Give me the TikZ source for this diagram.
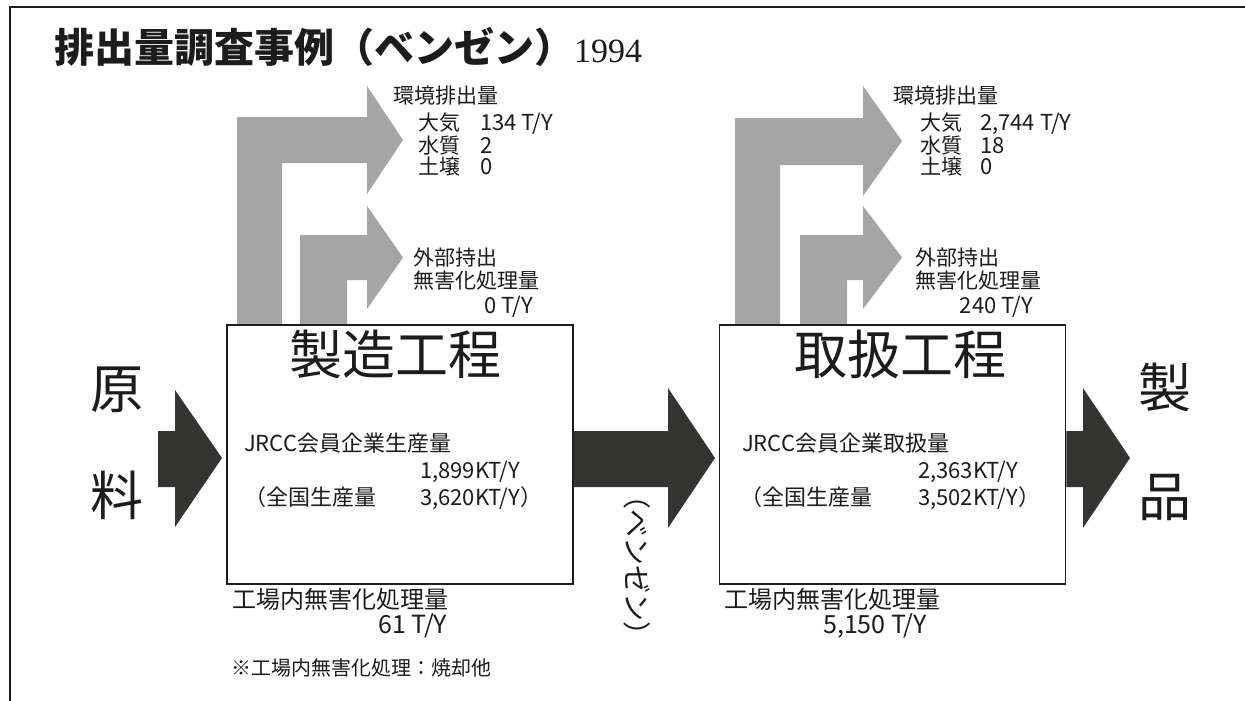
\documentclass[tikz,border=0pt]{standalone}
\usepackage{fontspec}
\setmainfont{Noto Sans CJK JP}
\newfontfamily\tnr{Liberation Serif}
\definecolor{arrgray}{RGB}{165,165,165}
\definecolor{arrdark}{RGB}{52,52,50}
\definecolor{ink}{RGB}{28,28,28}
\tikzset{
  lbl/.style={inner sep=0pt, text height=0.88em, text depth=0.12em, text=ink, anchor=west, font=\fontsize{21}{21}\selectfont},
  val/.style={lbl, font=\fontsize{22}{22}\selectfont},
  mid/.style={lbl, font=\fontsize{22}{22}\selectfont},
  big/.style={inner sep=0pt, text height=0.88em, text depth=0.12em, text=ink, font=\fontsize{53}{53}\selectfont},
  procbox/.style={draw=ink, line width=1.6pt, fill=white, minimum width=346pt, minimum height=259pt, inner sep=0pt},
  grayarrow/.style={fill=arrgray, draw=none},
  darkarrow/.style={fill=arrdark, draw=none}
}
\begin{document}
\begin{tikzpicture}[x=1pt,y=-1pt]
\useasboundingbox (0,0) rectangle (1245,701);
\fill[white] (0,0) rectangle (1245,701);
% frame
\draw[ink, line width=1.5pt] (10,701) -- (10,7) -- (1245,7);
% title
\node[inner sep=0pt, anchor=base west, text=ink] (title) at (54,63)
  {\fontsize{40}{40}\selectfont\bfseries 排出量調査事例（ベンゼン）{\tnr\mdseries\fontsize{34}{34}\selectfont 1994}};
% gray arrows left
\path[grayarrow] (237,325) -- (237,117) -- (367,117) -- (367,86) -- (403,140) -- (367,194) -- (367,163) -- (282,163) -- (282,325) -- cycle;
\path[grayarrow] (300,325) -- (300,235) -- (367,235) -- (367,206) -- (403,257.5) -- (367,309) -- (367,280) -- (347,280) -- (347,325) -- cycle;
% gray arrows right
\path[grayarrow] (735,325) -- (735,118) -- (863,118) -- (863,86) -- (902,141) -- (863,196) -- (863,165) -- (780,165) -- (780,325) -- cycle;
\path[grayarrow] (800,325) -- (800,235) -- (863,235) -- (863,206) -- (902,257.5) -- (863,309) -- (863,280) -- (847,280) -- (847,325) -- cycle;
% boxes
\node[procbox] (mfg) at (400,454.5) {};
\node[procbox] (hdl) at (892.5,454.5) {};
% dark arrows
\path[darkarrow] (158,431) -- (175,431) -- (175,390) -- (222,458) -- (175,527) -- (175,487) -- (158,487) -- cycle;
\path[darkarrow] (mfg.east |- 0,431) -- (668,431) -- (668,388) -- (715,458) -- (668,528) -- (668,487) -- (mfg.east |- 0,487) -- cycle;
\path[darkarrow] (hdl.east |- 0,431) -- (1083,431) -- (1083,388) -- (1130,458) -- (1083,528) -- (1083,487) -- (hdl.east |- 0,487) -- cycle;
% big labels
\node[big] (gen) at (117,405) {原};
\node[big] (ryo) at (117,512) {料};
\node[big] (sei) at (1165,404) {製};
\node[big] (hin) at (1165,513) {品};
\node[big] (mfgt) at (395,371) {製造工程};
\node[big] (hdlt) at (900,371) {取扱工程};
% left upper labels
\node[lbl] (envL) at (393,100) {環境排出量};
\node[lbl] (airL) at (418,127) {大気};
\node[val] (airLv) at (480,127) {134 T/Y};
\node[lbl] (watL) at (418,150) {水質};
\node[val] (watLv) at (480,150) {2};
\node[lbl] (soiL) at (418,171) {土壌};
\node[val] (soiLv) at (480,171) {0};
\node[lbl] (extL1) at (413,262) {外部持出};
\node[lbl] (extL2) at (413,285) {無害化処理量};
\node[val, anchor=east] (extLv) at (533,310) {0 T/Y};
% right upper labels
\node[lbl] (envR) at (893,100) {環境排出量};
\node[lbl] (airR) at (920,127) {大気};
\node[val] (airRv) at (980,127) {2,744 T/Y};
\node[lbl] (watR) at (920,150) {水質};
\node[val] (watRv) at (980,150) {18};
\node[lbl] (soiR) at (920,171) {土壌};
\node[val] (soiRv) at (980,171) {0};
\node[lbl] (extR1) at (915,262) {外部持出};
\node[lbl] (extR2) at (915,285) {無害化処理量};
\node[val, anchor=east] (extRv) at (1033,310) {240 T/Y};
% box contents
\node[mid] (jrL) at (244,448) {JRCC会員企業生産量};
\node[mid] (jrLv) at (420,475) {1,899KT/Y};
\node[mid] (natL) at (244,502) {（全国生産量};
\node[mid] (natLv) at (420,502) {3,620KT/Y）};
\node[mid] (jrR) at (742,448) {JRCC会員企業取扱量};
\node[mid] (jrRv) at (918,475) {2,363KT/Y};
\node[mid] (natR) at (740,502) {（全国生産量};
\node[mid] (natRv) at (918,502) {3,502KT/Y）};
% below boxes
\node[lbl, font=\fontsize{24}{24}\selectfont] (inL) at (232,605) {工場内無害化処理量};
\node[lbl, font=\fontsize{25}{25}\selectfont] (inLv) at (378,630) {61 T/Y};
\node[lbl, font=\fontsize{24}{24}\selectfont] (inR) at (724,605) {工場内無害化処理量};
\node[lbl, font=\fontsize{25}{25}\selectfont] (inRv) at (823,630) {5,150 T/Y};
\node[lbl, font=\fontsize{20}{20}\selectfont] (note) at (231,672) {※工場内無害化処理：焼却他};
% vertical benzene
\node[lbl, anchor=center, rotate=-90, font=\fontsize{28}{28}\selectfont] (benz) at (630,565) {（ベンゼン）};
\end{tikzpicture}
\end{document}
